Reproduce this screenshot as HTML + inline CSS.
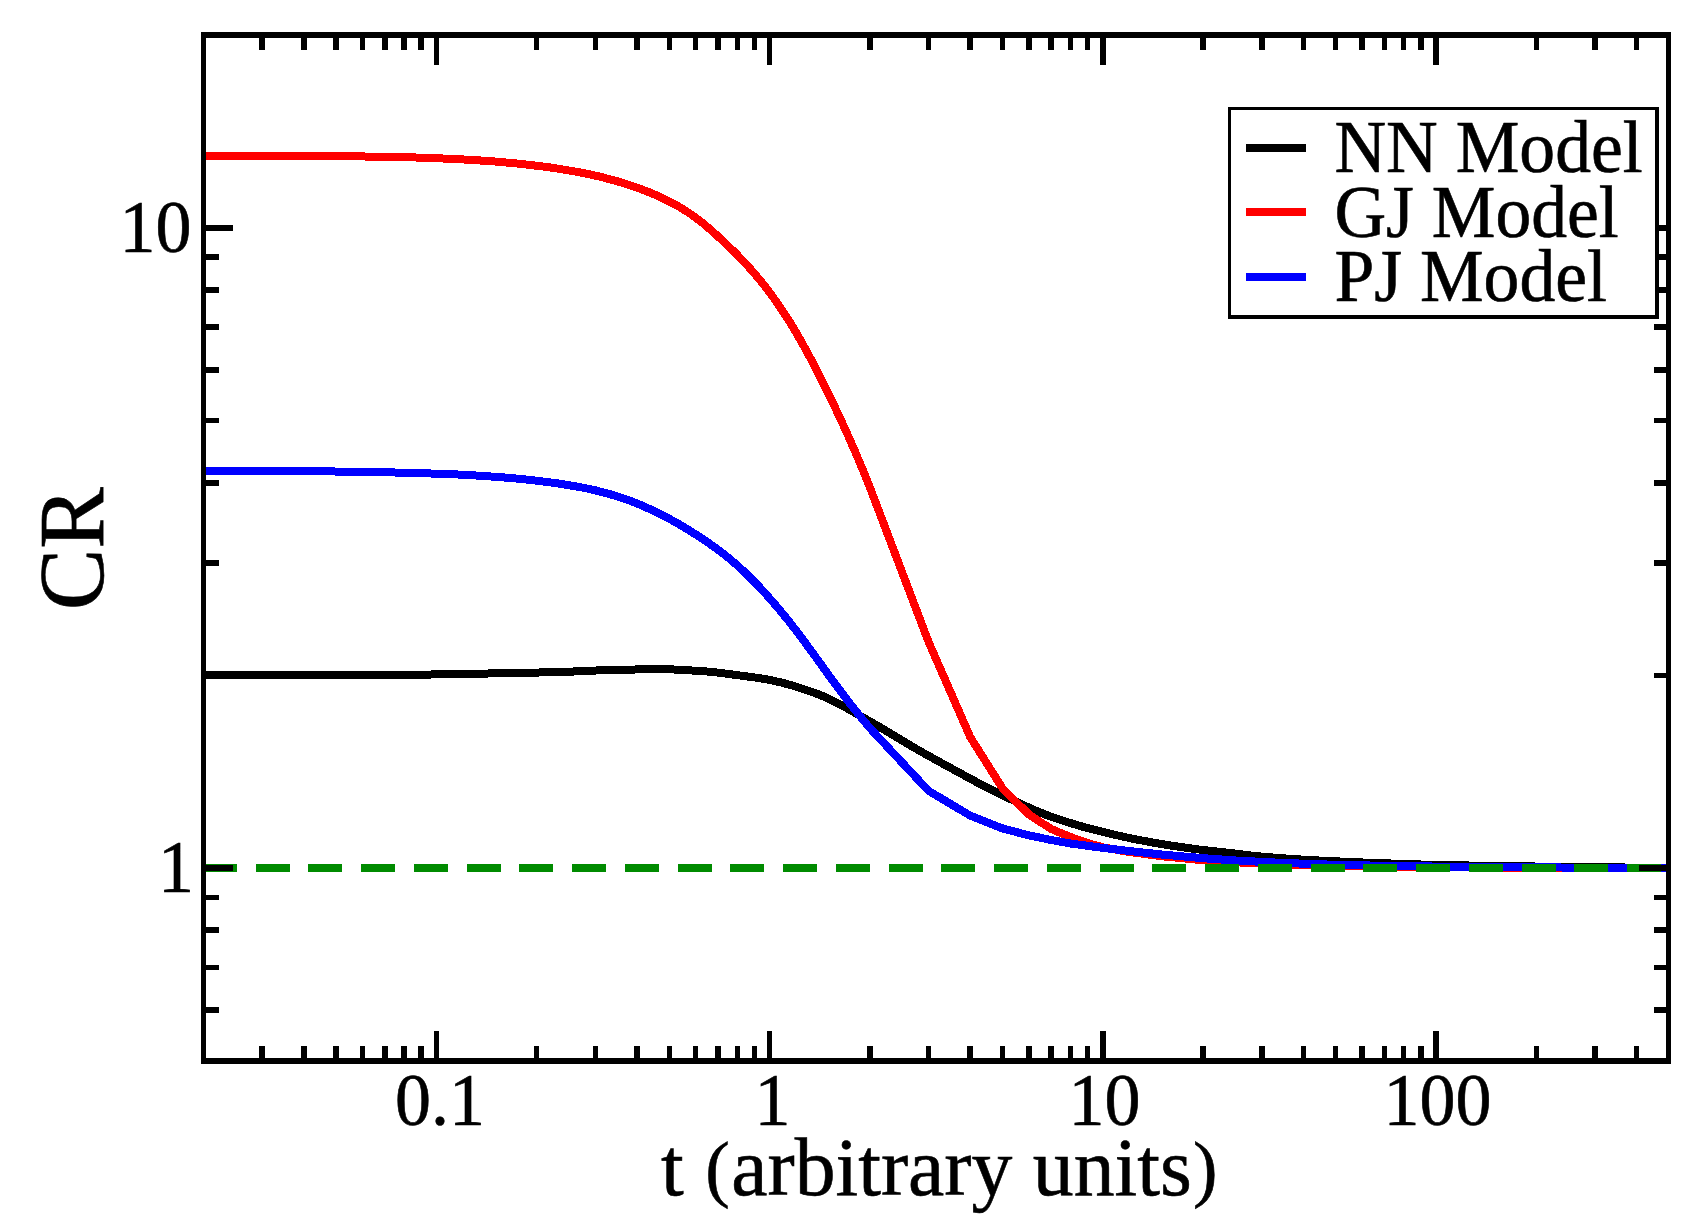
<!DOCTYPE html>
<html lang="en"><head><meta charset="utf-8"><title>CR vs t</title>
<style>html,body{margin:0;padding:0;background:#fff}svg{display:block}</style></head>
<body>
<svg width="1706" height="1224" viewBox="0 0 1706 1224">
<rect width="1706" height="1224" fill="#fff"/>
<defs><clipPath id="c"><rect x="203.5" y="35.0" width="1465.0" height="1026.0"/></clipPath></defs>
<g clip-path="url(#c)" fill="none" stroke-width="8" stroke-linejoin="round" shape-rendering="crispEdges">
<path d="M200.0,675.2 L203.0,675.2 L206.0,675.2 L209.0,675.2 L212.0,675.2 L215.0,675.2 L218.0,675.2 L221.0,675.2 L224.0,675.2 L227.0,675.2 L230.0,675.2 L233.0,675.2 L236.0,675.2 L239.0,675.2 L242.0,675.2 L245.0,675.2 L248.0,675.2 L251.0,675.2 L254.0,675.2 L257.0,675.2 L260.0,675.2 L263.0,675.2 L266.0,675.2 L269.0,675.2 L272.0,675.2 L275.0,675.2 L278.0,675.2 L281.0,675.2 L284.0,675.2 L287.0,675.2 L290.0,675.1 L293.0,675.1 L296.0,675.1 L299.0,675.1 L302.0,675.1 L305.0,675.1 L308.0,675.1 L311.0,675.1 L314.0,675.1 L317.0,675.1 L320.0,675.1 L323.0,675.1 L326.0,675.0 L329.0,675.0 L332.0,675.0 L335.0,675.0 L338.0,675.0 L341.0,675.0 L344.0,675.0 L347.0,675.0 L350.0,675.0 L353.0,675.0 L356.0,674.9 L359.0,674.9 L362.0,674.9 L365.0,674.9 L368.0,674.9 L371.0,674.9 L374.0,674.9 L377.0,674.9 L380.0,674.8 L383.0,674.8 L386.0,674.8 L389.0,674.8 L392.0,674.8 L395.0,674.8 L398.0,674.8 L401.0,674.7 L404.0,674.7 L407.0,674.7 L410.0,674.7 L413.0,674.7 L416.0,674.6 L419.0,674.6 L422.0,674.6 L425.0,674.5 L428.0,674.5 L431.0,674.5 L434.0,674.4 L437.0,674.4 L440.0,674.3 L443.0,674.3 L446.0,674.2 L449.0,674.2 L452.0,674.1 L455.0,674.1 L458.0,674.0 L461.0,674.0 L464.0,673.9 L467.0,673.9 L470.0,673.8 L473.0,673.7 L476.0,673.7 L479.0,673.6 L482.0,673.6 L485.0,673.5 L488.0,673.5 L491.0,673.4 L494.0,673.4 L497.0,673.3 L500.0,673.2 L503.0,673.2 L506.0,673.1 L509.0,673.1 L512.0,673.0 L515.0,673.0 L518.0,672.9 L521.0,672.9 L524.0,672.8 L527.0,672.8 L530.0,672.7 L533.0,672.6 L536.0,672.6 L539.0,672.5 L542.0,672.4 L545.0,672.4 L548.0,672.3 L551.0,672.2 L554.0,672.2 L557.0,672.1 L560.0,672.0 L563.0,671.9 L566.0,671.8 L569.0,671.7 L572.0,671.6 L575.0,671.4 L578.0,671.3 L581.0,671.2 L584.0,671.0 L587.0,670.9 L590.0,670.7 L593.0,670.6 L596.0,670.5 L599.0,670.3 L602.0,670.2 L605.0,670.1 L608.0,670.0 L611.0,670.0 L614.0,669.9 L617.0,669.8 L620.0,669.8 L623.0,669.7 L626.0,669.7 L629.0,669.6 L632.0,669.5 L635.0,669.5 L638.0,669.4 L641.0,669.4 L644.0,669.4 L647.0,669.3 L650.0,669.3 L653.0,669.3 L656.0,669.3 L659.0,669.3 L662.0,669.3 L665.0,669.3 L668.0,669.4 L671.0,669.4 L674.0,669.5 L677.0,669.7 L680.0,669.8 L683.0,670.0 L686.0,670.1 L689.0,670.3 L692.0,670.5 L695.0,670.7 L698.0,670.9 L701.0,671.1 L704.0,671.3 L707.0,671.5 L710.0,671.8 L713.0,672.1 L716.0,672.4 L719.0,672.8 L722.0,673.2 L725.0,673.5 L728.0,673.9 L731.0,674.3 L734.0,674.7 L737.0,675.1 L740.0,675.5 L743.0,675.9 L746.0,676.3 L749.0,676.7 L752.0,677.1 L755.0,677.5 L758.0,677.9 L761.0,678.4 L764.0,678.9 L767.0,679.4 L770.0,680.0 L773.0,680.6 L776.0,681.3 L779.0,682.0 L782.0,682.7 L785.0,683.5 L788.0,684.3 L791.0,685.1 L794.0,686.0 L797.0,686.9 L800.0,687.9 L803.0,688.9 L806.0,689.9 L809.0,690.9 L812.0,692.0 L815.0,693.1 L818.0,694.2 L821.0,695.4 L824.0,696.6 L827.0,697.9 L830.0,699.3 L833.0,700.8 L836.0,702.3 L839.0,703.9 L842.0,705.5 L845.0,707.2 L848.0,708.8 L851.0,710.6 L854.0,712.3 L857.0,714.0 L860.0,715.8 L863.0,717.5 L866.0,719.2 L869.0,720.9 L872.0,722.6 L875.0,724.3 L878.0,726.1 L881.0,727.8 L884.0,729.6 L887.0,731.4 L890.0,733.2 L893.0,735.0 L896.0,736.8 L899.0,738.6 L902.0,740.4 L905.0,742.2 L908.0,744.0 L911.0,745.8 L914.0,747.5 L917.0,749.3 L920.0,751.0 L923.0,752.7 L926.0,754.4 L929.0,756.1 L932.0,757.7 L935.0,759.4 L938.0,761.1 L941.0,762.7 L944.0,764.4 L947.0,766.0 L950.0,767.6 L953.0,769.3 L956.0,770.9 L959.0,772.5 L962.0,774.2 L965.0,775.8 L968.0,777.4 L971.0,779.0 L974.0,780.7 L977.0,782.3 L980.0,783.9 L983.0,785.5 L986.0,787.1 L989.0,788.6 L992.0,790.1 L995.0,791.6 L998.0,793.0 L1001.0,794.5 L1004.0,795.9 L1007.0,797.3 L1010.0,798.8 L1013.0,800.2 L1016.0,801.6 L1019.0,803.1 L1022.0,804.5 L1025.0,805.9 L1028.0,807.2 L1031.0,808.6 L1034.0,809.9 L1037.0,811.2 L1040.0,812.4 L1043.0,813.6 L1046.0,814.8 L1049.0,815.9 L1052.0,817.0 L1055.0,818.0 L1058.0,819.0 L1061.0,820.0 L1064.0,821.0 L1067.0,822.0 L1070.0,822.9 L1073.0,823.8 L1076.0,824.7 L1079.0,825.6 L1082.0,826.5 L1085.0,827.3 L1088.0,828.1 L1091.0,828.9 L1094.0,829.7 L1097.0,830.5 L1100.0,831.2 L1103.0,832.0 L1106.0,832.7 L1109.0,833.4 L1112.0,834.2 L1115.0,834.9 L1118.0,835.5 L1121.0,836.2 L1124.0,836.9 L1127.0,837.5 L1130.0,838.1 L1133.0,838.8 L1136.0,839.4 L1139.0,839.9 L1142.0,840.5 L1145.0,841.1 L1148.0,841.6 L1151.0,842.2 L1154.0,842.7 L1157.0,843.2 L1160.0,843.7 L1163.0,844.2 L1166.0,844.7 L1169.0,845.2 L1172.0,845.7 L1175.0,846.1 L1178.0,846.6 L1181.0,847.0 L1184.0,847.4 L1187.0,847.9 L1190.0,848.3 L1193.0,848.7 L1196.0,849.1 L1199.0,849.5 L1202.0,849.8 L1205.0,850.2 L1208.0,850.5 L1211.0,850.9 L1214.0,851.2 L1217.0,851.5 L1220.0,851.8 L1223.0,852.2 L1226.0,852.5 L1229.0,852.8 L1232.0,853.2 L1235.0,853.6 L1238.0,854.0 L1241.0,854.3 L1244.0,854.7 L1247.0,855.1 L1250.0,855.4 L1253.0,855.7 L1256.0,856.1 L1259.0,856.3 L1262.0,856.6 L1265.0,856.9 L1268.0,857.1 L1271.0,857.4 L1274.0,857.6 L1277.0,857.8 L1280.0,858.0 L1283.0,858.3 L1286.0,858.5 L1289.0,858.7 L1292.0,858.9 L1295.0,859.1 L1298.0,859.3 L1301.0,859.5 L1304.0,859.6 L1307.0,859.8 L1310.0,860.0 L1313.0,860.2 L1316.0,860.3 L1319.0,860.5 L1322.0,860.7 L1325.0,860.8 L1328.0,861.0 L1331.0,861.1 L1334.0,861.3 L1337.0,861.4 L1340.0,861.5 L1343.0,861.7 L1346.0,861.8 L1349.0,861.9 L1352.0,862.1 L1355.0,862.2 L1358.0,862.3 L1361.0,862.4 L1364.0,862.6 L1367.0,862.7 L1370.0,862.8 L1373.0,862.9 L1376.0,863.0 L1379.0,863.1 L1382.0,863.2 L1385.0,863.3 L1388.0,863.4 L1391.0,863.5 L1394.0,863.6 L1397.0,863.7 L1400.0,863.8 L1403.0,863.9 L1406.0,864.0 L1409.0,864.1 L1412.0,864.2 L1415.0,864.3 L1418.0,864.4 L1421.0,864.5 L1424.0,864.5 L1427.0,864.6 L1430.0,864.7 L1433.0,864.8 L1436.0,864.8 L1439.0,864.9 L1442.0,865.0 L1445.0,865.0 L1448.0,865.1 L1451.0,865.2 L1454.0,865.2 L1457.0,865.3 L1460.0,865.3 L1463.0,865.4 L1466.0,865.4 L1469.0,865.5 L1472.0,865.6 L1475.0,865.6 L1478.0,865.7 L1481.0,865.7 L1484.0,865.8 L1487.0,865.8 L1490.0,865.8 L1493.0,865.9 L1496.0,865.9 L1499.0,866.0 L1502.0,866.0 L1505.0,866.1 L1508.0,866.1 L1511.0,866.2 L1514.0,866.2 L1517.0,866.2 L1520.0,866.3 L1523.0,866.3 L1526.0,866.4 L1529.0,866.4 L1532.0,866.4 L1535.0,866.5 L1538.0,866.5 L1541.0,866.6 L1544.0,866.6 L1547.0,866.6 L1550.0,866.7 L1553.0,866.7 L1556.0,866.7 L1559.0,866.8 L1562.0,866.8 L1565.0,866.8 L1568.0,866.9 L1571.0,866.9 L1574.0,866.9 L1577.0,867.0 L1580.0,867.0 L1583.0,867.0 L1586.0,867.1 L1589.0,867.1 L1592.0,867.1 L1595.0,867.2 L1598.0,867.2 L1601.0,867.2 L1604.0,867.3 L1607.0,867.3 L1610.0,867.3 L1613.0,867.4 L1616.0,867.4 L1619.0,867.4 L1622.0,867.4 L1625.0,867.5 L1628.0,867.5 L1631.0,867.5 L1634.0,867.6 L1637.0,867.6 L1640.0,867.6 L1643.0,867.6 L1646.0,867.7 L1649.0,867.7 L1652.0,867.7 L1655.0,867.7 L1658.0,867.7 L1661.0,867.8 L1664.0,867.8 L1667.0,867.8 L1670.0,867.8" stroke="#000"/>
<path d="M200.0,156.1 L203.0,156.0 L206.0,156.0 L209.0,156.0 L212.0,156.0 L215.0,156.0 L218.0,156.0 L221.0,156.0 L224.0,156.0 L227.0,156.0 L230.0,156.0 L233.0,156.0 L236.0,156.0 L239.0,156.0 L242.0,156.0 L245.0,155.9 L248.0,155.9 L251.0,155.9 L254.0,155.9 L257.0,155.9 L260.0,155.9 L263.0,155.9 L266.0,155.9 L269.0,155.9 L272.0,155.9 L275.0,155.9 L278.0,155.9 L281.0,155.9 L284.0,155.9 L287.0,155.9 L290.0,155.9 L293.0,155.9 L296.0,155.9 L299.0,156.0 L302.0,156.0 L305.0,156.0 L308.0,156.0 L311.0,156.0 L314.0,156.0 L317.0,156.0 L320.0,156.0 L323.0,156.1 L326.0,156.1 L329.0,156.1 L332.0,156.1 L335.0,156.1 L338.0,156.2 L341.0,156.2 L344.0,156.2 L347.0,156.3 L350.0,156.3 L353.0,156.3 L356.0,156.4 L359.0,156.4 L362.0,156.4 L365.0,156.5 L368.0,156.5 L371.0,156.6 L374.0,156.6 L377.0,156.7 L380.0,156.7 L383.0,156.8 L386.0,156.8 L389.0,156.9 L392.0,156.9 L395.0,157.0 L398.0,157.1 L401.0,157.1 L404.0,157.2 L407.0,157.3 L410.0,157.4 L413.0,157.4 L416.0,157.5 L419.0,157.6 L422.0,157.7 L425.0,157.8 L428.0,157.9 L431.0,158.0 L434.0,158.1 L437.0,158.2 L440.0,158.3 L443.0,158.5 L446.0,158.6 L449.0,158.7 L452.0,158.9 L455.0,159.0 L458.0,159.1 L461.0,159.3 L464.0,159.5 L467.0,159.6 L470.0,159.8 L473.0,160.0 L476.0,160.2 L479.0,160.4 L482.0,160.6 L485.0,160.8 L488.0,161.0 L491.0,161.2 L494.0,161.4 L497.0,161.7 L500.0,161.9 L503.0,162.2 L506.0,162.5 L509.0,162.7 L512.0,163.0 L515.0,163.3 L518.0,163.6 L521.0,163.9 L524.0,164.3 L527.0,164.6 L530.0,164.9 L533.0,165.3 L536.0,165.7 L539.0,166.0 L542.0,166.4 L545.0,166.8 L548.0,167.2 L551.0,167.6 L554.0,168.1 L557.0,168.5 L560.0,169.0 L563.0,169.5 L566.0,169.9 L569.0,170.5 L572.0,171.0 L575.0,171.5 L578.0,172.1 L581.0,172.6 L584.0,173.2 L587.0,173.8 L590.0,174.5 L593.0,175.1 L596.0,175.8 L599.0,176.5 L602.0,177.2 L605.0,178.0 L608.0,178.8 L611.0,179.6 L614.0,180.4 L617.0,181.2 L620.0,182.1 L623.0,183.0 L626.0,184.0 L629.0,184.9 L632.0,185.9 L635.0,187.0 L638.0,188.0 L641.0,189.1 L644.0,190.3 L647.0,191.4 L650.0,192.6 L653.0,193.9 L656.0,195.2 L659.0,196.5 L662.0,197.9 L665.0,199.3 L668.0,200.8 L671.0,202.3 L674.0,203.9 L677.0,205.6 L680.0,207.3 L683.0,209.1 L686.0,211.0 L689.0,213.0 L692.0,215.0 L695.0,217.2 L698.0,219.4 L701.0,221.7 L704.0,224.2 L707.0,226.7 L710.0,229.3 L713.0,231.9 L716.0,234.6 L719.0,237.4 L722.0,240.2 L725.0,243.0 L728.0,245.8 L731.0,248.7 L734.0,251.6 L737.0,254.6 L740.0,257.7 L743.0,260.8 L746.0,264.0 L749.0,267.3 L752.0,270.7 L755.0,274.2 L758.0,277.8 L761.0,281.4 L764.0,285.2 L767.0,289.0 L770.0,293.0 L773.0,297.1 L776.0,301.3 L779.0,305.6 L782.0,310.0 L785.0,314.6 L788.0,319.2 L791.0,324.0 L794.0,329.0 L797.0,334.1 L800.0,339.3 L803.0,344.6 L806.0,350.1 L809.0,355.6 L812.0,361.3 L815.0,367.0 L818.0,372.9 L821.0,378.8 L824.0,384.8 L827.0,390.8 L830.0,397.0 L833.0,403.2 L836.0,409.5 L839.0,415.8 L842.0,422.3 L845.0,428.9 L848.0,435.5 L851.0,442.3 L854.0,449.1 L857.0,456.1 L860.0,463.2 L863.0,470.4 L866.0,477.7 L869.0,485.2 L869.9,487.4 L928.6,642.0 L970.2,737.0 L1002.5,788.3 L1028.9,814.5 L1051.2,829.0 L1070.5,837.0 L1087.6,843.0 L1102.8,847.3 L1129.2,852.0 L1161.5,856.2 L1203.1,860.3 L1235.4,862.3 L1284.1,864.4 L1335.7,865.8 L1403.7,866.8 L1494.7,867.5 L1668.9,868.0" stroke="#f00"/>
<path d="M200.0,470.9 L203.0,470.9 L206.0,470.9 L209.0,470.9 L212.0,470.9 L215.0,470.9 L218.0,470.9 L221.0,470.9 L224.0,470.9 L227.0,470.9 L230.0,470.9 L233.0,470.9 L236.0,470.9 L239.0,470.9 L242.0,470.9 L245.0,470.9 L248.0,470.9 L251.0,470.9 L254.0,470.9 L257.0,471.0 L260.0,471.0 L263.0,471.0 L266.0,471.0 L269.0,471.0 L272.0,471.0 L275.0,471.0 L278.0,471.0 L281.0,471.0 L284.0,471.1 L287.0,471.1 L290.0,471.1 L293.0,471.1 L296.0,471.1 L299.0,471.1 L302.0,471.2 L305.0,471.2 L308.0,471.2 L311.0,471.2 L314.0,471.3 L317.0,471.3 L320.0,471.3 L323.0,471.4 L326.0,471.4 L329.0,471.4 L332.0,471.4 L335.0,471.5 L338.0,471.5 L341.0,471.6 L344.0,471.6 L347.0,471.6 L350.0,471.7 L353.0,471.7 L356.0,471.8 L359.0,471.8 L362.0,471.9 L365.0,471.9 L368.0,472.0 L371.0,472.0 L374.0,472.1 L377.0,472.1 L380.0,472.2 L383.0,472.2 L386.0,472.3 L389.0,472.4 L392.0,472.4 L395.0,472.5 L398.0,472.6 L401.0,472.6 L404.0,472.7 L407.0,472.8 L410.0,472.9 L413.0,472.9 L416.0,473.0 L419.0,473.1 L422.0,473.2 L425.0,473.3 L428.0,473.4 L431.0,473.5 L434.0,473.6 L437.0,473.7 L440.0,473.8 L443.0,473.9 L446.0,474.0 L449.0,474.1 L452.0,474.3 L455.0,474.4 L458.0,474.5 L461.0,474.7 L464.0,474.8 L467.0,475.0 L470.0,475.2 L473.0,475.3 L476.0,475.5 L479.0,475.7 L482.0,475.9 L485.0,476.1 L488.0,476.3 L491.0,476.5 L494.0,476.7 L497.0,476.9 L500.0,477.2 L503.0,477.4 L506.0,477.6 L509.0,477.9 L512.0,478.2 L515.0,478.4 L518.0,478.7 L521.0,479.0 L524.0,479.3 L527.0,479.6 L530.0,480.0 L533.0,480.3 L536.0,480.6 L539.0,481.0 L542.0,481.4 L545.0,481.7 L548.0,482.1 L551.0,482.5 L554.0,482.9 L557.0,483.3 L560.0,483.8 L563.0,484.2 L566.0,484.7 L569.0,485.2 L572.0,485.7 L575.0,486.2 L578.0,486.8 L581.0,487.3 L584.0,487.9 L587.0,488.5 L590.0,489.2 L593.0,489.8 L596.0,490.5 L599.0,491.3 L602.0,492.0 L605.0,492.8 L608.0,493.6 L611.0,494.5 L614.0,495.4 L617.0,496.3 L620.0,497.3 L623.0,498.3 L626.0,499.3 L629.0,500.4 L632.0,501.5 L635.0,502.7 L638.0,503.9 L641.0,505.2 L644.0,506.4 L647.0,507.8 L650.0,509.1 L653.0,510.5 L656.0,512.0 L659.0,513.5 L662.0,515.0 L665.0,516.5 L668.0,518.1 L671.0,519.7 L674.0,521.4 L677.0,523.1 L680.0,524.8 L683.0,526.6 L686.0,528.4 L689.0,530.2 L692.0,532.1 L695.0,534.0 L698.0,535.9 L701.0,537.9 L704.0,539.9 L707.0,541.9 L710.0,544.0 L713.0,546.1 L716.0,548.2 L719.0,550.5 L722.0,552.7 L725.0,555.1 L728.0,557.5 L731.0,560.0 L734.0,562.5 L737.0,565.2 L740.0,567.9 L743.0,570.6 L746.0,573.5 L749.0,576.4 L752.0,579.4 L755.0,582.4 L758.0,585.5 L761.0,588.7 L764.0,592.0 L767.0,595.3 L770.0,598.7 L773.0,602.1 L776.0,605.6 L779.0,609.2 L782.0,612.8 L785.0,616.5 L788.0,620.2 L791.0,624.0 L794.0,627.8 L797.0,631.7 L800.0,635.7 L803.0,639.7 L806.0,643.8 L809.0,647.9 L812.0,652.0 L815.0,656.1 L818.0,660.3 L821.0,664.4 L824.0,668.6 L827.0,672.8 L830.0,676.9 L833.0,681.0 L836.0,685.1 L839.0,689.1 L842.0,693.1 L845.0,697.1 L848.0,701.0 L851.0,704.8 L854.0,708.7 L857.0,712.4 L860.0,716.2 L863.0,719.8 L866.0,723.4 L869.0,727.0 L869.9,728.1 L928.6,790.9 L970.2,815.6 L1002.5,828.4 L1028.9,835.4 L1051.2,840.0 L1070.5,843.5 L1102.8,847.9 L1129.2,851.0 L1161.5,854.5 L1203.1,858.2 L1235.4,860.5 L1284.1,863.0 L1335.7,864.8 L1403.7,866.2 L1494.7,867.2 L1668.9,868.0" stroke="#00f"/>
<path d="M202.85,868 L1668.5,868" stroke="#008b00" stroke-dasharray="33.9 18.85"/>
</g>
<g fill="#000" shape-rendering="crispEdges">
<rect x="259.43" y="35.0" width="5.5" height="15.0"/>
<rect x="259.43" y="1046.0" width="5.5" height="15.0"/>
<rect x="301.06" y="35.0" width="5.5" height="15.0"/>
<rect x="301.06" y="1046.0" width="5.5" height="15.0"/>
<rect x="333.35" y="35.0" width="5.5" height="15.0"/>
<rect x="333.35" y="1046.0" width="5.5" height="15.0"/>
<rect x="359.73" y="35.0" width="5.5" height="15.0"/>
<rect x="359.73" y="1046.0" width="5.5" height="15.0"/>
<rect x="382.04" y="35.0" width="5.5" height="15.0"/>
<rect x="382.04" y="1046.0" width="5.5" height="15.0"/>
<rect x="401.36" y="35.0" width="5.5" height="15.0"/>
<rect x="401.36" y="1046.0" width="5.5" height="15.0"/>
<rect x="418.40" y="35.0" width="5.5" height="15.0"/>
<rect x="418.40" y="1046.0" width="5.5" height="15.0"/>
<rect x="433.65" y="35.0" width="5.5" height="30.0"/>
<rect x="433.65" y="1031.0" width="5.5" height="30.0"/>
<rect x="533.95" y="35.0" width="5.5" height="15.0"/>
<rect x="533.95" y="1046.0" width="5.5" height="15.0"/>
<rect x="592.63" y="35.0" width="5.5" height="15.0"/>
<rect x="592.63" y="1046.0" width="5.5" height="15.0"/>
<rect x="634.26" y="35.0" width="5.5" height="15.0"/>
<rect x="634.26" y="1046.0" width="5.5" height="15.0"/>
<rect x="666.55" y="35.0" width="5.5" height="15.0"/>
<rect x="666.55" y="1046.0" width="5.5" height="15.0"/>
<rect x="692.93" y="35.0" width="5.5" height="15.0"/>
<rect x="692.93" y="1046.0" width="5.5" height="15.0"/>
<rect x="715.24" y="35.0" width="5.5" height="15.0"/>
<rect x="715.24" y="1046.0" width="5.5" height="15.0"/>
<rect x="734.56" y="35.0" width="5.5" height="15.0"/>
<rect x="734.56" y="1046.0" width="5.5" height="15.0"/>
<rect x="751.60" y="35.0" width="5.5" height="15.0"/>
<rect x="751.60" y="1046.0" width="5.5" height="15.0"/>
<rect x="766.85" y="35.0" width="5.5" height="30.0"/>
<rect x="766.85" y="1031.0" width="5.5" height="30.0"/>
<rect x="867.15" y="35.0" width="5.5" height="15.0"/>
<rect x="867.15" y="1046.0" width="5.5" height="15.0"/>
<rect x="925.83" y="35.0" width="5.5" height="15.0"/>
<rect x="925.83" y="1046.0" width="5.5" height="15.0"/>
<rect x="967.46" y="35.0" width="5.5" height="15.0"/>
<rect x="967.46" y="1046.0" width="5.5" height="15.0"/>
<rect x="999.75" y="35.0" width="5.5" height="15.0"/>
<rect x="999.75" y="1046.0" width="5.5" height="15.0"/>
<rect x="1026.13" y="35.0" width="5.5" height="15.0"/>
<rect x="1026.13" y="1046.0" width="5.5" height="15.0"/>
<rect x="1048.44" y="35.0" width="5.5" height="15.0"/>
<rect x="1048.44" y="1046.0" width="5.5" height="15.0"/>
<rect x="1067.76" y="35.0" width="5.5" height="15.0"/>
<rect x="1067.76" y="1046.0" width="5.5" height="15.0"/>
<rect x="1084.80" y="35.0" width="5.5" height="15.0"/>
<rect x="1084.80" y="1046.0" width="5.5" height="15.0"/>
<rect x="1100.05" y="35.0" width="5.5" height="30.0"/>
<rect x="1100.05" y="1031.0" width="5.5" height="30.0"/>
<rect x="1200.35" y="35.0" width="5.5" height="15.0"/>
<rect x="1200.35" y="1046.0" width="5.5" height="15.0"/>
<rect x="1259.03" y="35.0" width="5.5" height="15.0"/>
<rect x="1259.03" y="1046.0" width="5.5" height="15.0"/>
<rect x="1300.66" y="35.0" width="5.5" height="15.0"/>
<rect x="1300.66" y="1046.0" width="5.5" height="15.0"/>
<rect x="1332.95" y="35.0" width="5.5" height="15.0"/>
<rect x="1332.95" y="1046.0" width="5.5" height="15.0"/>
<rect x="1359.33" y="35.0" width="5.5" height="15.0"/>
<rect x="1359.33" y="1046.0" width="5.5" height="15.0"/>
<rect x="1381.64" y="35.0" width="5.5" height="15.0"/>
<rect x="1381.64" y="1046.0" width="5.5" height="15.0"/>
<rect x="1400.96" y="35.0" width="5.5" height="15.0"/>
<rect x="1400.96" y="1046.0" width="5.5" height="15.0"/>
<rect x="1418.00" y="35.0" width="5.5" height="15.0"/>
<rect x="1418.00" y="1046.0" width="5.5" height="15.0"/>
<rect x="1433.25" y="35.0" width="5.5" height="30.0"/>
<rect x="1433.25" y="1031.0" width="5.5" height="30.0"/>
<rect x="1533.55" y="35.0" width="5.5" height="15.0"/>
<rect x="1533.55" y="1046.0" width="5.5" height="15.0"/>
<rect x="1592.23" y="35.0" width="5.5" height="15.0"/>
<rect x="1592.23" y="1046.0" width="5.5" height="15.0"/>
<rect x="1633.86" y="35.0" width="5.5" height="15.0"/>
<rect x="1633.86" y="1046.0" width="5.5" height="15.0"/>
<rect x="203.5" y="1007.37" width="15.0" height="5.8"/>
<rect x="1653.5" y="1007.37" width="15.0" height="5.8"/>
<rect x="203.5" y="964.50" width="15.0" height="5.8"/>
<rect x="1653.5" y="964.50" width="15.0" height="5.8"/>
<rect x="203.5" y="927.36" width="15.0" height="5.8"/>
<rect x="1653.5" y="927.36" width="15.0" height="5.8"/>
<rect x="203.5" y="894.60" width="15.0" height="5.8"/>
<rect x="1653.5" y="894.60" width="15.0" height="5.8"/>
<rect x="203.5" y="865.30" width="29.5" height="5.8"/>
<rect x="1639.0" y="865.30" width="29.5" height="5.8"/>
<rect x="203.5" y="672.52" width="15.0" height="5.8"/>
<rect x="1653.5" y="672.52" width="15.0" height="5.8"/>
<rect x="203.5" y="559.75" width="15.0" height="5.8"/>
<rect x="1653.5" y="559.75" width="15.0" height="5.8"/>
<rect x="203.5" y="479.74" width="15.0" height="5.8"/>
<rect x="1653.5" y="479.74" width="15.0" height="5.8"/>
<rect x="203.5" y="417.68" width="15.0" height="5.8"/>
<rect x="1653.5" y="417.68" width="15.0" height="5.8"/>
<rect x="203.5" y="366.97" width="15.0" height="5.8"/>
<rect x="1653.5" y="366.97" width="15.0" height="5.8"/>
<rect x="203.5" y="324.10" width="15.0" height="5.8"/>
<rect x="1653.5" y="324.10" width="15.0" height="5.8"/>
<rect x="203.5" y="286.96" width="15.0" height="5.8"/>
<rect x="1653.5" y="286.96" width="15.0" height="5.8"/>
<rect x="203.5" y="254.20" width="15.0" height="5.8"/>
<rect x="1653.5" y="254.20" width="15.0" height="5.8"/>
<rect x="203.5" y="224.90" width="29.5" height="5.8"/>
<rect x="1639.0" y="224.90" width="29.5" height="5.8"/>
</g>
<rect x="1229.6" y="108.6" width="427.6" height="208.5" fill="#fff" stroke="#000" stroke-width="3.5" shape-rendering="crispEdges"/>
<g shape-rendering="crispEdges"><rect x="1246" y="144" width="60" height="8" fill="#000"/><rect x="1246" y="208.4" width="60" height="8" fill="#f00"/><rect x="1246" y="273" width="60" height="8" fill="#00f"/></g>
<g fill="#000" shape-rendering="crispEdges">
<rect x="201" y="32" width="5" height="1032"/>
<rect x="1666" y="32" width="5" height="1032"/>
<rect x="201" y="32" width="1470" height="6"/>
<rect x="201" y="1058" width="1470" height="6"/>
</g>
<g font-family="'Liberation Serif', 'Times New Roman', Times, serif" fill="#000" stroke="#000" stroke-width="0.6">
<text transform="translate(1334.40,172.00) scale(1,1.028)" font-size="71.60" text-anchor="start">NN Model</text>
<text transform="translate(1334.40,236.50) scale(1,1.028)" font-size="71.60" text-anchor="start">GJ Model</text>
<text transform="translate(1334.40,301.00) scale(1,1.028)" font-size="71.60" text-anchor="start">PJ Model</text>
<text transform="translate(191.50,252.30) scale(1,1.035)" font-size="72.00" text-anchor="end">10</text>
<text transform="translate(194.00,891.70) scale(1,1.035)" font-size="72.00" text-anchor="end">1</text>
<text transform="translate(440.00,1125.00) scale(1,1.035)" font-size="72.00" text-anchor="middle">0.1</text>
<text transform="translate(772.50,1125.00) scale(1,1.035)" font-size="72.00" text-anchor="middle">1</text>
<text transform="translate(1104.60,1125.00) scale(1,1.035)" font-size="72.00" text-anchor="middle">10</text>
<text transform="translate(1437.60,1125.00) scale(1,1.035)" font-size="72.00" text-anchor="middle">100</text>
<text transform="translate(939.20,1195.00) scale(1,1.000)" font-size="81.70" text-anchor="middle">t <tspan font-size="73.5" dx="1.35" dy="-1.8">(</tspan><tspan dx="1.35" dy="1.8">arbitrary units</tspan><tspan font-size="73.5" dx="1.35" dy="-1.8">)</tspan></text>
<text transform="translate(103,548.8) rotate(-90)" font-size="92.3" text-anchor="middle">CR</text>
</g>
</svg>
</body></html>
